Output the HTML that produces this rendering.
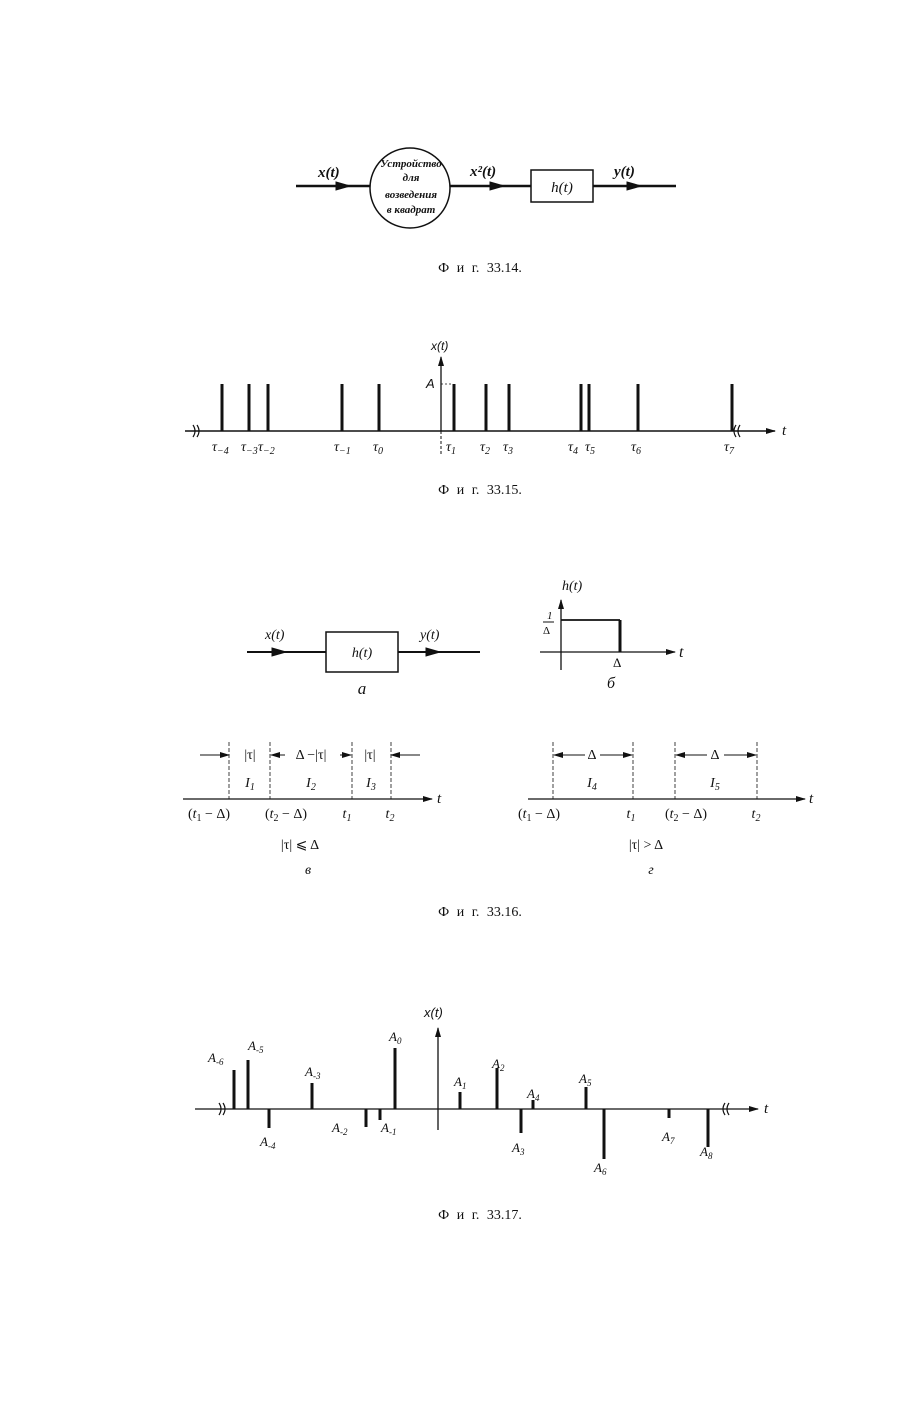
<!DOCTYPE html>
<html><head><meta charset="utf-8"><style>
html,body{margin:0;padding:0;background:#fff}
svg{display:block}
text{font-family:"Liberation Serif","DejaVu Serif",serif;fill:#111}
.i{font-style:italic}
.s{font-family:"Liberation Sans","DejaVu Sans",sans-serif;font-style:italic}
</style></head><body>
<svg width="912" height="1421" viewBox="0 0 912 1421" xmlns="http://www.w3.org/2000/svg">
<defs>
<marker id="ar" markerWidth="10" markerHeight="8" refX="9" refY="4" orient="auto" markerUnits="userSpaceOnUse"><path d="M0,1 L10,4 L0,7 Z" fill="#111"/></marker>
</defs>
<g stroke="#111" fill="none">
<line x1="296" y1="186" x2="370" y2="186" stroke-width="2.5"/>
<path d="M336,182 L350,186 L336,190Z" fill="#111"/>
<circle cx="410" cy="188" r="40" stroke-width="1.5"/>
<line x1="450" y1="186" x2="531" y2="186" stroke-width="2.5"/>
<path d="M490,182 L504,186 L490,190Z" fill="#111"/>
<rect x="531" y="170" width="62" height="32" stroke-width="1.5"/>
<line x1="593" y1="186" x2="676" y2="186" stroke-width="2.5"/>
<path d="M627,182 L641,186 L627,190Z" fill="#111"/>
<line x1="185" y1="431" x2="775" y2="431" stroke-width="1.5" marker-end="url(#ar)"/>
<line x1="441" y1="431" x2="441" y2="357" stroke-width="1.3" marker-end="url(#ar)"/>
<line x1="441" y1="431" x2="441" y2="455" stroke-width="1" stroke-dasharray="3,2"/>
<line x1="441" y1="384" x2="452" y2="384" stroke-width="0.7" stroke-dasharray="2,2"/>
<g stroke-width="3">
<line x1="222" y1="384" x2="222" y2="431"/><line x1="249" y1="384" x2="249" y2="431"/>
<line x1="268" y1="384" x2="268" y2="431"/><line x1="342" y1="384" x2="342" y2="431"/>
<line x1="379" y1="384" x2="379" y2="431"/><line x1="454" y1="384" x2="454" y2="431"/>
<line x1="486" y1="384" x2="486" y2="431"/><line x1="509" y1="384" x2="509" y2="431"/>
<line x1="581" y1="384" x2="581" y2="431"/><line x1="589" y1="384" x2="589" y2="431"/>
<line x1="638" y1="384" x2="638" y2="431"/><line x1="732" y1="384" x2="732" y2="431"/>
</g>
<path d="M193,425 q4,6 0,12 M197,425 q4,6 0,12 M736,425 q-4,6 0,12 M740,425 q-4,6 0,12" stroke-width="1.2"/>
<line x1="247" y1="652" x2="326" y2="652" stroke-width="2"/>
<path d="M272,648 L286,652 L272,656Z" fill="#111"/>
<rect x="326" y="632" width="72" height="40" stroke-width="1.5"/>
<line x1="398" y1="652" x2="480" y2="652" stroke-width="2"/>
<path d="M426,648 L440,652 L426,656Z" fill="#111"/>
<line x1="540" y1="652" x2="675" y2="652" stroke-width="1.3" marker-end="url(#ar)"/>
<line x1="561" y1="670" x2="561" y2="600" stroke-width="1.3" marker-end="url(#ar)"/>
<line x1="561" y1="620" x2="620" y2="620" stroke-width="1.8"/>
<line x1="620" y1="620" x2="620" y2="652" stroke-width="3"/>
<line x1="183" y1="799" x2="432" y2="799" stroke-width="1.3" marker-end="url(#ar)"/>
<g stroke-width="0.8" stroke-dasharray="4,2">
<line x1="229" y1="742" x2="229" y2="799"/><line x1="270" y1="742" x2="270" y2="799"/>
<line x1="352" y1="742" x2="352" y2="799"/><line x1="391" y1="742" x2="391" y2="799"/>
</g>
<line x1="200" y1="755" x2="229" y2="755" stroke-width="1" marker-end="url(#ar)"/>
<line x1="420" y1="755" x2="391" y2="755" stroke-width="1" marker-end="url(#ar)"/>
<line x1="285" y1="755" x2="271" y2="755" stroke-width="1" marker-end="url(#ar)"/>
<line x1="340" y1="755" x2="351" y2="755" stroke-width="1" marker-end="url(#ar)"/>
<line x1="528" y1="799" x2="805" y2="799" stroke-width="1.3" marker-end="url(#ar)"/>
<g stroke-width="0.8" stroke-dasharray="4,2">
<line x1="553" y1="742" x2="553" y2="799"/><line x1="633" y1="742" x2="633" y2="799"/>
<line x1="675" y1="742" x2="675" y2="799"/><line x1="757" y1="742" x2="757" y2="799"/>
</g>
<line x1="585" y1="755" x2="554" y2="755" stroke-width="1" marker-end="url(#ar)"/>
<line x1="600" y1="755" x2="632" y2="755" stroke-width="1" marker-end="url(#ar)"/>
<line x1="707" y1="755" x2="676" y2="755" stroke-width="1" marker-end="url(#ar)"/>
<line x1="724" y1="755" x2="756" y2="755" stroke-width="1" marker-end="url(#ar)"/>
<line x1="195" y1="1109" x2="758" y2="1109" stroke-width="1.3" marker-end="url(#ar)"/>
<line x1="438" y1="1130" x2="438" y2="1028" stroke-width="1.3" marker-end="url(#ar)"/>
<path d="M219,1103 q4,6 0,12 M223,1103 q4,6 0,12 M725,1103 q-4,6 0,12 M729,1103 q-4,6 0,12" stroke-width="1.2"/>
<g stroke-width="3">
<line x1="234" y1="1070" x2="234" y2="1109"/><line x1="248" y1="1060" x2="248" y2="1109"/>
<line x1="269" y1="1109" x2="269" y2="1128"/><line x1="312" y1="1083" x2="312" y2="1109"/>
<line x1="366" y1="1109" x2="366" y2="1127"/><line x1="380" y1="1109" x2="380" y2="1120"/>
<line x1="395" y1="1048" x2="395" y2="1109"/><line x1="460" y1="1092" x2="460" y2="1109"/>
<line x1="497" y1="1068" x2="497" y2="1109"/><line x1="521" y1="1109" x2="521" y2="1133"/>
<line x1="533" y1="1100" x2="533" y2="1109"/><line x1="586" y1="1087" x2="586" y2="1109"/>
<line x1="604" y1="1109" x2="604" y2="1159"/><line x1="669" y1="1109" x2="669" y2="1118"/>
<line x1="708" y1="1109" x2="708" y2="1147"/>
</g>
</g>
<text x="318" y="177" class="i" font-size="15" font-weight="bold">x(t)</text>
<g class="s" font-size="11" text-anchor="middle" font-weight="bold">
<text x="411" y="167">Устройство</text><text x="411" y="181">для</text>
<text x="411" y="198">возведения</text><text x="411" y="213">в квадрат</text>
</g>
<text x="470" y="176" class="i" font-size="15" font-weight="bold">x²(t)</text>
<text x="562" y="192" class="i" font-size="15" text-anchor="middle">h(t)</text>
<text x="614" y="176" class="i" font-size="15" font-weight="bold">y(t)</text>
<text x="480" y="272" font-size="14" text-anchor="middle" word-spacing="4">Ф и г.   33.14.</text>
<text x="431" y="350" class="s" font-size="12">x(t)</text>
<text x="426" y="388" class="s" font-size="13">A</text>
<text x="782" y="435" class="i" font-size="15">t</text>
<g class="i" font-size="14">
<text x="212" y="451">τ<tspan font-size="10" dy="3">−4</tspan></text>
<text x="241" y="451">τ<tspan font-size="10" dy="3">−3</tspan></text>
<text x="258" y="451">τ<tspan font-size="10" dy="3">−2</tspan></text>
<text x="334" y="451">τ<tspan font-size="10" dy="3">−1</tspan></text>
<text x="373" y="451">τ<tspan font-size="10" dy="3">0</tspan></text>
<text x="446" y="451">τ<tspan font-size="10" dy="3">1</tspan></text>
<text x="480" y="451">τ<tspan font-size="10" dy="3">2</tspan></text>
<text x="503" y="451">τ<tspan font-size="10" dy="3">3</tspan></text>
<text x="568" y="451">τ<tspan font-size="10" dy="3">4</tspan></text>
<text x="585" y="451">τ<tspan font-size="10" dy="3">5</tspan></text>
<text x="631" y="451">τ<tspan font-size="10" dy="3">6</tspan></text>
<text x="724" y="451">τ<tspan font-size="10" dy="3">7</tspan></text>
</g>
<text x="480" y="494" font-size="14" text-anchor="middle" word-spacing="4">Ф и г.   33.15.</text>
<text x="265" y="639" class="i" font-size="14">x(t)</text>
<text x="362" y="657" class="i" font-size="14" text-anchor="middle">h(t)</text>
<text x="420" y="639" class="i" font-size="14">y(t)</text>
<text x="362" y="694" class="i" font-size="17" text-anchor="middle">a</text>
<text x="562" y="590" class="i" font-size="14">h(t)</text>
<text x="547" y="619" class="i" font-size="11">1</text>
<line x1="543" y1="622" x2="554" y2="622" stroke="#111" stroke-width="1"/>
<text x="543" y="634" font-size="11">Δ</text>
<text x="613" y="667" font-size="13">Δ</text>
<text x="679" y="657" class="i" font-size="16">t</text>
<text x="611" y="688" class="i" font-size="16" text-anchor="middle">б</text>
<g font-size="14" text-anchor="middle">
<text x="250" y="759">|τ|</text><text x="311" y="759">Δ −|τ|</text><text x="370" y="759">|τ|</text>
<text x="250" y="787" class="i">I<tspan font-size="10" dy="3">1</tspan></text>
<text x="311" y="787" class="i">I<tspan font-size="10" dy="3">2</tspan></text>
<text x="371" y="787" class="i">I<tspan font-size="10" dy="3">3</tspan></text>
<text x="209" y="818">(<tspan class="i">t</tspan><tspan font-size="10" dy="3">1</tspan><tspan dy="-3"> − Δ)</tspan></text>
<text x="286" y="818">(<tspan class="i">t</tspan><tspan font-size="10" dy="3">2</tspan><tspan dy="-3"> − Δ)</tspan></text>
<text x="347" y="818" class="i">t<tspan font-size="10" dy="3">1</tspan></text>
<text x="390" y="818" class="i">t<tspan font-size="10" dy="3">2</tspan></text>
<text x="300" y="849">|τ| ⩽ Δ</text>
<text x="308" y="874" class="i">в</text>
<text x="592" y="759">Δ</text><text x="715" y="759">Δ</text>
<text x="592" y="787" class="i">I<tspan font-size="10" dy="3">4</tspan></text>
<text x="715" y="787" class="i">I<tspan font-size="10" dy="3">5</tspan></text>
<text x="539" y="818">(<tspan class="i">t</tspan><tspan font-size="10" dy="3">1</tspan><tspan dy="-3"> − Δ)</tspan></text>
<text x="631" y="818" class="i">t<tspan font-size="10" dy="3">1</tspan></text>
<text x="686" y="818">(<tspan class="i">t</tspan><tspan font-size="10" dy="3">2</tspan><tspan dy="-3"> − Δ)</tspan></text>
<text x="756" y="818" class="i">t<tspan font-size="10" dy="3">2</tspan></text>
<text x="646" y="849">|τ| &gt; Δ</text>
<text x="651" y="874" class="i">г</text>
</g>
<text x="437" y="803" class="i" font-size="15">t</text>
<text x="809" y="803" class="i" font-size="15">t</text>
<text x="480" y="916" font-size="14" text-anchor="middle" word-spacing="4">Ф и г.   33.16.</text>
<text x="424" y="1017" class="s" font-size="13">x(t)</text>
<text x="764" y="1113" class="i" font-size="15">t</text>
<g class="s" font-size="13">
<text x="208" y="1062">A<tspan font-size="9" dy="3">-6</tspan></text>
<text x="248" y="1050">A<tspan font-size="9" dy="3">-5</tspan></text>
<text x="260" y="1146">A<tspan font-size="9" dy="3">-4</tspan></text>
<text x="305" y="1076">A<tspan font-size="9" dy="3">-3</tspan></text>
<text x="332" y="1132">A<tspan font-size="9" dy="3">-2</tspan></text>
<text x="381" y="1132">A<tspan font-size="9" dy="3">-1</tspan></text>
<text x="389" y="1041">A<tspan font-size="9" dy="3">0</tspan></text>
<text x="454" y="1086">A<tspan font-size="9" dy="3">1</tspan></text>
<text x="492" y="1068">A<tspan font-size="9" dy="3">2</tspan></text>
<text x="512" y="1152">A<tspan font-size="9" dy="3">3</tspan></text>
<text x="527" y="1098">A<tspan font-size="9" dy="3">4</tspan></text>
<text x="579" y="1083">A<tspan font-size="9" dy="3">5</tspan></text>
<text x="594" y="1172">A<tspan font-size="9" dy="3">6</tspan></text>
<text x="662" y="1141">A<tspan font-size="9" dy="3">7</tspan></text>
<text x="700" y="1156">A<tspan font-size="9" dy="3">8</tspan></text>
</g>
<text x="480" y="1219" font-size="14" text-anchor="middle" word-spacing="4">Ф и г.   33.17.</text>
</svg>
</body></html>
